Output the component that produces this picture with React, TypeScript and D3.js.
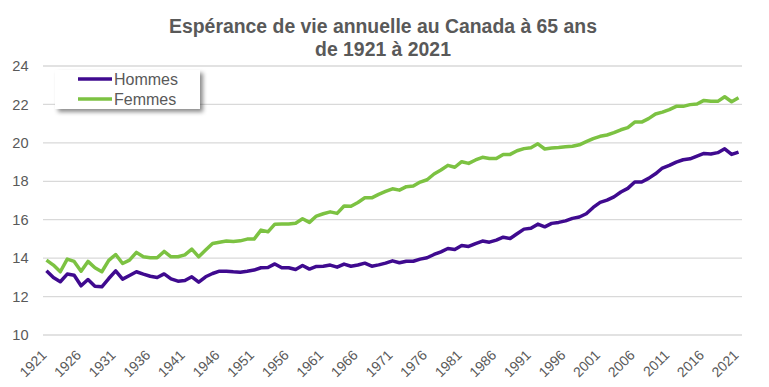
import * as d3 from "d3"

const years = d3.range(1921, 2022)
const tickYears = d3.range(1921, 2022, 5)
const yTicks = [10, 12, 14, 16, 18, 20, 22, 24]

const hommes = [
  13.34, 12.99, 12.77, 13.17, 13.11, 12.56, 12.89, 12.54, 12.51, 12.94,
  13.34, 12.91, 13.10, 13.29, 13.17, 13.06, 12.99, 13.18, 12.92, 12.80,
  12.84, 13.03, 12.75, 13.03, 13.20, 13.32, 13.32, 13.29, 13.27, 13.32,
  13.38, 13.50, 13.51, 13.70, 13.50, 13.50, 13.41, 13.62, 13.43, 13.57,
  13.58, 13.64, 13.53, 13.69, 13.58, 13.64, 13.74, 13.58, 13.65, 13.74,
  13.86, 13.76, 13.84, 13.84, 13.95, 14.02, 14.19, 14.33, 14.50, 14.45,
  14.66, 14.61, 14.76, 14.89, 14.83, 14.94, 15.09, 15.02, 15.27, 15.51,
  15.55, 15.77, 15.63, 15.81, 15.86, 15.94, 16.07, 16.14, 16.31, 16.64,
  16.90, 17.02, 17.19, 17.44, 17.63, 17.96, 17.96, 18.15, 18.39, 18.69,
  18.83, 19.00, 19.12, 19.17, 19.31, 19.45, 19.42, 19.49, 19.69, 19.40,
  19.52,
]

const femmes = [
  13.90, 13.64, 13.29, 13.95, 13.83, 13.32, 13.83, 13.50, 13.29, 13.88,
  14.19, 13.72, 13.90, 14.30, 14.07, 14.02, 14.02, 14.35, 14.07, 14.07,
  14.17, 14.47, 14.07, 14.42, 14.76, 14.83, 14.89, 14.87, 14.90, 14.99,
  14.99, 15.46, 15.37, 15.77, 15.78, 15.78, 15.82, 16.05, 15.86, 16.19,
  16.31, 16.41, 16.33, 16.71, 16.70, 16.90, 17.14, 17.14, 17.32, 17.47,
  17.61, 17.54, 17.72, 17.75, 17.96, 18.08, 18.38, 18.59, 18.83, 18.73,
  19.02, 18.93, 19.11, 19.25, 19.19, 19.18, 19.40, 19.40, 19.59, 19.70,
  19.75, 19.95, 19.68, 19.73, 19.76, 19.80, 19.82, 19.90, 20.06, 20.22,
  20.34, 20.41, 20.53, 20.68, 20.79, 21.08, 21.08, 21.26, 21.50, 21.60,
  21.73, 21.90, 21.90, 21.99, 22.02, 22.21, 22.16, 22.16, 22.40, 22.14,
  22.35,
]

const series = [
  { name: "Hommes", values: hommes, color: "#3f0a8f" },
  { name: "Femmes", values: femmes, color: "#7cc242" },
]

const width = 769
const height = 387
const font = "'Liberation Sans', Arial, sans-serif"
const textColor = "#595959"

export default function App() {
  const x = d3.scaleBand<number>().domain(years).range([43, 742])
  const cx = (yr: number) => (x(yr) ?? 0) + x.bandwidth() / 2
  const y = d3.scaleLinear().domain([10, 24]).range([335, 66])

  const line = d3
    .line<number>()
    .x((_, i) => cx(years[i]))
    .y((d) => y(d))

  return (
    <svg
      width={width}
      height={height}
      style={{ position: "absolute", left: 0, top: 0, background: "#fff" }}
      fontFamily={font}
    >
      <defs>
        <filter id="shadow" x="-10%" y="-20%" width="130%" height="160%">
          <feDropShadow dx="3" dy="3" stdDeviation="2" floodColor="#000" floodOpacity="0.45" />
        </filter>
      </defs>

      <text textAnchor="middle" fill={textColor} fontWeight="bold" fontSize={19.4}>
        <tspan x={383} y={33}>Espérance de vie annuelle au Canada à 65 ans</tspan>
        <tspan x={383} y={56}>de 1921 à 2021</tspan>
      </text>

      <g>
        {yTicks.map((t) => (
          <g key={t}>
            <line x1={43} x2={742} y1={y(t)} y2={y(t)} stroke="#d9d9d9" strokeWidth={1.3} />
            <text x={28.5} y={y(t)} dy="0.35em" textAnchor="end" fontSize={14.6} fill={textColor}>
              {t}
            </text>
          </g>
        ))}
      </g>

      <g>
        {tickYears.map((t) => (
          <text
            key={t}
            transform={`translate(${cx(t) - 2.5},${352.5}) rotate(-45)`}
            textAnchor="end"
            dy="0.35em"
            fontSize={14}
            fill={textColor}
          >
            {t}
          </text>
        ))}
      </g>

      {series.map((s) => (
        <path
          key={s.name}
          d={line(s.values) ?? ""}
          fill="none"
          stroke={s.color}
          strokeWidth={3.5}
          strokeLinejoin="round"
        />
      ))}

      <g>
        <rect x={55} y={70} width={145} height={39} fill="#fff" filter="url(#shadow)" />
        {series.map((s, i) => (
          <g key={s.name} transform={`translate(0,${79 + i * 20})`}>
            <line x1={78} x2={112} stroke={s.color} strokeWidth={3.5} />
            <text x={114} dy="0.35em" fontSize={16} fill={textColor}>
              {s.name}
            </text>
          </g>
        ))}
      </g>
    </svg>
  )
}
